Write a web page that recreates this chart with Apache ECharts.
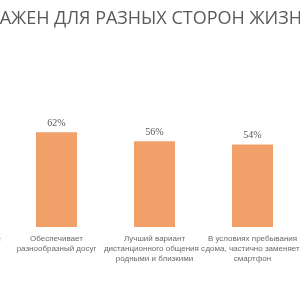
<!DOCTYPE html>
<html>
<head>
    <meta charset="utf-8">
    <script src="https://cdn.jsdelivr.net/npm/echarts@6/dist/echarts.min.js"></script>
    <style>
        html, body { margin: 0; padding: 0; background: #fff; }
        #main { width: 300px; height: 300px; }
    </style>
</head>
<body>
    <div id="main"></div>
    <script>
        var titleText = 'ВАЖЕН ДЛЯ РАЗНЫХ СТОРОН ЖИЗНИ';
        var categories = [
            'Помогает быть в курсе\nновостей и событий',
            'Обеспечивает\nразнообразный досуг',
            'Лучший вариант\nдистанционного общения с\nродными и близкими',
            'В условиях пребывания\nдома, частично заменяет\nсмартфон',
            'Фон для\nдомашних дел'
        ];
        var values = [70, 62, 56, 54, 50];

        var chart = echarts.init(document.getElementById('main'));
        chart.setOption({
            backgroundColor: '#ffffff',
            animation: false,
            graphic: [{
                type: 'text',
                left: -12,
                top: 10,
                style: {
                    text: titleText,
                    fontFamily: 'Open Sans',
                    fontSize: 18,
                    fill: '#5a5a5a'
                }
            }],
            grid: {
                left: -90.5, right: -99.5, top: 74, bottom: 73,
                containLabel: false,
                outerBoundsMode: 'none'
            },
            xAxis: {
                type: 'category',
                data: categories,
                axisLine: { show: false },
                axisTick: { show: false },
                axisLabel: {
                    interval: 0,
                    margin: 7,
                    fontSize: 8,
                    lineHeight: 10,
                    color: '#6a6a6a',
                    fontFamily: 'Liberation Sans'
                }
            },
            yAxis: { type: 'value', min: 0, max: 100, show: false },
            series: [{
                type: 'bar',
                data: values,
                barWidth: 41,
                itemStyle: { color: '#F0A068' },
                label: {
                    show: true,
                    position: 'top',
                    distance: 4,
                    formatter: '{c}%',
                    fontSize: 10,
                    color: '#595959',
                    fontFamily: 'Liberation Serif'
                }
            }]
        });
    </script>
</body>
</html>
